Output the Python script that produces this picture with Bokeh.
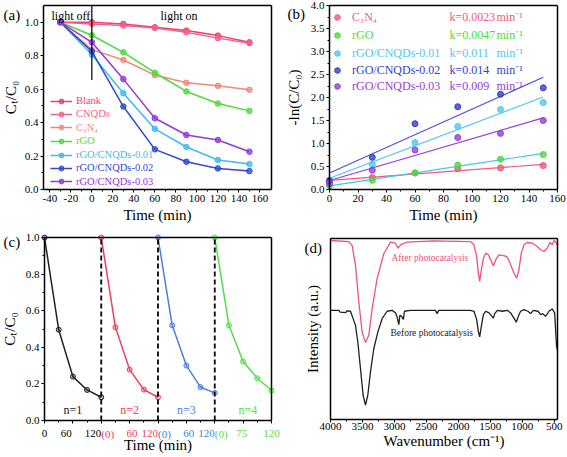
import numpy as np
from bokeh.plotting import figure
from bokeh.layouts import column, row
from bokeh.models import (Range1d, FixedTicker, Legend, LegendItem, Label, LinearAxis,
                          CustomJSTickFormatter, AllLabels)
from bokeh.core.properties import value
from bokeh.embed import file_html
from bokeh.resources import INLINE

FONT = "Liberation Serif"

# ---------------- (a) data ----------------
time_a = [-30, 0, 30, 60, 90, 120, 150]
names_a = ["Blank", "CNQDs", "C₃N₄", "rGO", "rGO/CNQDs-0.01", "rGO/CNQDs-0.02", "rGO/CNQDs-0.03"]
blank = [1.0, 1.0, 0.99, 0.97, 0.95, 0.92, 0.88]
cnqds = [1.0, 0.99, 0.98, 0.965, 0.94, 0.905, 0.875]
c3n4 = [1.0, 0.836, 0.774, 0.684, 0.638, 0.62, 0.596]
rgo = [1.0, 0.922, 0.82, 0.698, 0.586, 0.514, 0.47]
rgo_cnqds_001 = [1.0, 0.806, 0.576, 0.362, 0.254, 0.176, 0.152]
rgo_cnqds_002 = [1.0, 0.826, 0.496, 0.24, 0.166, 0.126, 0.11]
rgo_cnqds_003 = [1.0, 0.88, 0.66, 0.426, 0.326, 0.296, 0.226]
colors_a = ["#ee3f6e", "#f4628c", "#f4877a", "#4cdc3c", "#3cbcf0", "#3048d0", "#9438d8"]
light_switch_time = 0
light_line_bottom = 0.655
ratio_ticks = [0.0, 0.2, 0.4, 0.6, 0.8, 1.0]
ratio_labels = ["0.0", "0.2", "0.4", "0.6", "0.8", "1.0"]
ratio_minor = [0.1, 0.3, 0.5, 0.7, 0.9]

# ---------------- (b) data ----------------
time_b = [0, 30, 60, 90, 120, 150]
names_b = ["C₃N₄", "rGO", "rGO/CNQDs-0.01", "rGO/CNQDs-0.02", "rGO/CNQDs-0.03"]
ln_c3n4 = [0.18, 0.26, 0.36, 0.45, 0.47, 0.52]
ln_rgo = [0.08, 0.20, 0.36, 0.53, 0.66, 0.76]
ln_001 = [0.20, 0.55, 1.02, 1.37, 1.74, 1.89]
ln_002 = [0.19, 0.70, 1.43, 1.80, 2.07, 2.21]
ln_003 = [0.13, 0.42, 0.86, 1.13, 1.22, 1.50]
k_values = ["k=0.0023", "k=0.0047", "k=0.011", "k=0.014", "k=0.009"]
colors_b = ["#f4587a", "#4cdc3c", "#50c8f0", "#3040d0", "#9440d8"]
fit_colors_b = ["#f4587a", "#40c8e8", "#50c8f0", "#5050e0", "#9440d8"]

# ---------------- (c) data ----------------
cycle_time = [0, 30, 60, 90, 120]
cycle_offsets = [0, 120, 240, 360]
cycle1 = [1.0, 0.496, 0.24, 0.167, 0.127]
cycle2 = [1.0, 0.509, 0.278, 0.169, 0.127]
cycle3 = [1.0, 0.52, 0.30, 0.182, 0.151]
cycle4 = [1.0, 0.52, 0.322, 0.231, 0.164]
cycle_names = ["n=1", "n=2", "n=3", "n=4"]
cycle_name_x = [60, 180, 300, 430]
colors_c = ["#222222", "#f23c5c", "#4a7ee0", "#52e048"]
tick_pos_c = [0, 46, 120, 120, 185, 240, 240, 305, 360, 360, 417, 480]
tick_text_c = ["0", "60", "120", "(0)", "60", "120", "(0)", "60", "120", "(0)", "75", "120"]
tick_cycle_c = [0, 0, 0, 1, 1, 1, 2, 2, 2, 3, 3, 3]
tick_align_c = ["center", "center", "right", "left", "center", "right", "left", "center", "right", "left", "center", "center"]

# ---------------- (d) data ----------------
wn_after = [4000, 3714, 3661, 3609, 3557, 3505, 3453, 3401, 3349, 3271, 3167, 3062, 2984, 2943, 2896,
            2802, 2385, 1812, 1756, 1714, 1688, 1667, 1641, 1609, 1573, 1531, 1495, 1453, 1417, 1366,
            1288, 1234, 1183, 1131, 1089, 1053, 1016, 975, 922, 844, 766, 714, 662, 609, 569, 531, 506, 464, 450]
int_after = [98.9, 98.3, 96.1, 85.1, 64.9, 48.3, 42.5, 46.5, 61.2, 77.8, 91.6, 98.0, 97.4, 94.7, 96.8,
             98.0, 98.7, 98.3, 96.5, 90.1, 80.9, 76.3, 82.7, 89.1, 91.9, 91.0, 88.2, 84.9, 88.2, 91.0,
             90.5, 89.7, 85.5, 80.9, 78.1, 82.7, 91.9, 96.5, 97.8, 97.4, 95.6, 93.8, 92.8, 94.7, 97.8, 96.5, 98.9, 97.4, 96.0]
wn_before = [4000, 3870, 3850, 3760, 3745, 3687, 3609, 3573, 3531, 3490, 3453, 3417, 3375, 3323, 3260, 3193,
             3115, 3036, 2984, 2958, 2932, 2915, 2890, 2860, 2844, 2750, 2359, 2333, 2307, 1812, 1756,
             1714, 1688, 1667, 1641, 1609, 1573, 1521, 1484, 1453, 1432, 1391, 1313, 1234, 1183, 1131,
             1094, 1063, 1027, 975, 912, 870, 828, 755, 714, 682, 636, 583, 531, 495, 474, 464, 450]
int_before = [60.3, 60.3, 59.3, 59.0, 60.0, 59.8, 52.0, 42.8, 28.1, 13.4, 7.9, 13.4, 26.3, 39.1, 48.3, 55.7,
              59.8, 60.3, 59.0, 56.6, 52.4, 57.5, 57.1, 55.3, 59.8, 60.3, 60.3, 58.5, 60.3, 60.3, 59.8,
              55.2, 48.7, 45.6, 51.5, 57.9, 59.8, 58.9, 57.4, 56.0, 58.5, 60.3, 59.8, 60.3, 58.9, 56.0,
              53.7, 57.0, 59.8, 60.7, 59.8, 58.5, 60.3, 59.8, 57.9, 58.5, 57.0, 59.8, 61.1, 58.9, 45.9, 40.4, 38.0]
colors_d = ["#f4507a", "#202020"]

FMT0 = "return tick.toFixed(0)"
FMT1 = "return tick.toFixed(1)"
BLANK = "return ''"


def make_fig(W, H, box, xr, yr):
    """box = (left, right, top, bottom) of the plot box in pixels from the figure's top-left."""
    L, R, T, B = box
    x0, x1 = xr
    y0, y1 = yr
    sx = (x1 - x0) / (R - L)
    sy = (y1 - y0) / (B - T)
    p = figure(width=W, height=H, x_range=Range1d(x0 - L * sx, x1 + (W - R) * sx),
               y_range=Range1d(y0 - (H - B) * sy, y1 + T * sy),
               x_axis_location=None, y_axis_location=None,
               min_border_left=0, min_border_right=0, min_border_top=0, min_border_bottom=0,
               output_backend="svg", toolbar_location=None)
    p.outline_line_color = None
    p.background_fill_color = "white"
    p.border_fill_color = "white"
    p.grid.visible = False
    return p, sx


def add_axis(p, side, loc, bounds, ticks=(), minor=(), fmt=None, label=None,
             label_standoff=2, title_standoff=2, tick_out=3):
    ax = LinearAxis(fixed_location=loc, bounds=(min(bounds), max(bounds)),
                    ticker=FixedTicker(ticks=list(ticks), minor_ticks=list(minor)),
                    major_label_policy=AllLabels())
    if fmt is not None:
        ax.formatter = CustomJSTickFormatter(code=fmt)
    if label is not None:
        ax.axis_label = label
    ax.axis_line_width = 1.5
    ax.axis_line_color = "black"
    ax.major_tick_in = 0
    ax.major_tick_out = tick_out
    ax.minor_tick_in = 0
    ax.minor_tick_out = 2 if tick_out else 0
    ax.major_tick_line_width = 1
    ax.minor_tick_line_width = 1
    ax.major_label_text_font = FONT
    ax.major_label_text_font_size = "11px"
    ax.major_label_text_color = "black"
    ax.major_label_standoff = label_standoff
    ax.axis_label_text_font = FONT
    ax.axis_label_text_font_size = "15px"
    ax.axis_label_text_font_style = "normal"
    ax.axis_label_text_color = "black"
    ax.axis_label_standoff = title_standoff
    p.add_layout(ax, side)
    return ax


def box_axes(p, xr, yr):
    add_axis(p, "above", yr[1], xr, tick_out=0)
    add_axis(p, "right", xr[1], yr, tick_out=0)


def stxt(p, text, x, y_top, H, color="black", size="12px", align="left", baseline="middle"):
    p.add_layout(Label(x=x, y=H - y_top, x_units="screen", y_units="screen", text=text,
                       text_color=color, text_font=FONT, text_font_size=size,
                       text_align=align, text_baseline=baseline))


def dtxt(p, text, x, y, color="black", size="12px", align="left", baseline="middle"):
    p.add_layout(Label(x=x, y=y, text=text, text_color=color, text_font=FONT,
                       text_font_size=size, text_align=align, text_baseline=baseline))


def y_label_glyphs(p, x_data, ticks, labels):
    p.text(x=[x_data] * len(ticks), y=ticks, text=labels, text_font=value(FONT),
           text_font_size="11px", text_color="black", text_align="right", text_baseline="middle")


def one_legend(p, label, renderers, color, loc, size, gw, gh, standoff):
    lg = Legend(items=[LegendItem(label=label, renderers=renderers)], location=loc,
                label_text_color=color, label_text_font=FONT, label_text_font_size=size,
                glyph_width=gw, glyph_height=gh, label_standoff=standoff, label_height=gh,
                padding=0, margin=0, spacing=0, border_line_alpha=0, background_fill_alpha=0)
    p.add_layout(lg)


# ---------------- panel (a) ----------------
WA, HA = 283, 228
xr_a, yr_a = (-46, 171), (0, 1.1)
pa, sx_a = make_fig(WA, HA, (43, 271, 5, 189), xr_a, yr_a)
series_a = [blank, cnqds, c3n4, rgo, rgo_cnqds_001, rgo_cnqds_002, rgo_cnqds_003]
rends_a = []
for vals, col in zip(series_a, colors_a):
    lr = pa.line(time_a, vals, line_color=col, line_width=1.5)
    sr = pa.scatter(time_a, vals, size=5.5, fill_color=col, line_color=col, fill_alpha=0.75)
    rends_a.append((lr, sr))
pa.line([light_switch_time, light_switch_time], [light_line_bottom, yr_a[1]],
        line_color="black", line_width=1.2)
y_label_glyphs(pa, xr_a[0] - 5 * sx_a, ratio_ticks, ratio_labels)
add_axis(pa, "below", yr_a[0], xr_a, range(-40, 161, 20), range(-40, 161, 10), FMT0, "Time (min)")
add_axis(pa, "left", xr_a[0], yr_a, ratio_ticks, ratio_minor, BLANK, "Cₜ/C₀", title_standoff=22)
box_axes(pa, xr_a, yr_a)
leg_c_a = [100, 113.3, 126.7, 140, 154, 167.3, 180.7]
for (lr, sr), name, col, cy in zip(rends_a, names_a, colors_a, leg_c_a):
    one_legend(pa, name, [lr, sr], col, (50, HA - cy - 6.5), "10.5px", 22, 12, 4)
stxt(pa, "light off", 51, 15, HA, size="12px")
stxt(pa, "light on", 160, 15, HA, size="12px")
stxt(pa, "(a)", 3, 14, HA, size="15px")

# ---------------- panel (b) ----------------
WB, HB = 284, 228
xr_b, yr_b = (0, 160), (0, 4.0)
pb, sx_b = make_fig(WB, HB, (46, 274, 5, 189), xr_b, yr_b)
series_b = [ln_c3n4, ln_rgo, ln_001, ln_002, ln_003]
leg_c_b = [16.5, 34.5, 52.5, 69.5, 85.5]
for vals, col, fcol, name, kv, cy in zip(series_b, colors_b, fit_colors_b, names_b, k_values, leg_c_b):
    slope, icpt = np.polyfit(time_b, vals, 1)
    xs = [time_b[0], time_b[-1]]
    pb.line(xs, [icpt + slope * x for x in xs], line_color=fcol, line_width=1.2)
    sr = pb.scatter(time_b, vals, size=6, fill_color=col, line_color=col, fill_alpha=0.8)
    one_legend(pb, name, [sr], col, (46, HB - cy - 8), "12px", 16, 14, 7)
    stxt(pb, kv, 166, cy, HB, color=col, size="12px")
    stxt(pb, "min⁻¹", 213, cy, HB, color=col, size="12px")
add_axis(pb, "below", yr_b[0], xr_b, range(0, 161, 20), range(0, 161, 10), FMT0, "Time (min)")
add_axis(pb, "left", xr_b[0], yr_b, [0, 0.5, 1.0, 1.5, 2.0, 2.5, 3.0, 3.5, 4.0],
         [0.25, 0.75, 1.25, 1.75, 2.25, 2.75, 3.25, 3.75], FMT1, "-ln(C/C₀)", title_standoff=6)
box_axes(pb, xr_b, yr_b)
stxt(pb, "(b)", 4, 13.5, HB, size="15px")

# ---------------- panel (c) ----------------
WC, HC = 283, 229
xr_c, yr_c = (0, 480), (0, 1.0)
pc, sx_c = make_fig(WC, HC, (44, 271, 9, 192), xr_c, yr_c)
for vals, off, col in zip([cycle1, cycle2, cycle3, cycle4], cycle_offsets, colors_c):
    xs = [off + t for t in cycle_time]
    pc.line(xs, vals, line_color=col, line_width=1.5)
    pc.scatter(xs, vals, size=5, fill_color=col, line_color=col, fill_alpha=0.35)
for d in cycle_offsets[1:]:
    pc.line([d, d], [yr_c[0], yr_c[1]], line_color="black", line_width=1.8, line_dash="5 3")
y_label_glyphs(pc, xr_c[0] - 5 * sx_c, ratio_ticks, ratio_labels)
add_axis(pc, "below", yr_c[0], xr_c, range(0, 481, 60), range(30, 481, 60), BLANK,
         "Time (min)", title_standoff=13)
add_axis(pc, "left", xr_c[0], yr_c, ratio_ticks, ratio_minor, BLANK, "Cₜ/C₀", title_standoff=24)
box_axes(pc, xr_c, yr_c)
for pos, t, ci, al in zip(tick_pos_c, tick_text_c, tick_cycle_c, tick_align_c):
    pc.add_layout(Label(x=pos, y=HC - 205, y_units="screen", text=t,
                        text_color=colors_c[ci] if ci > 0 else "black", text_font=FONT,
                        text_font_size="11px", text_align=al, text_baseline="middle"))
for nx, nm, col in zip(cycle_name_x, cycle_names, colors_c):
    dtxt(pc, nm, nx, 0.055, color=col, size="12px", align="center")
stxt(pc, "(c)", 3, 13, HC, size="15px")

# ---------------- panel (d) ----------------
WD, HD = 284, 229
xr_d, yr_d = (4000, 450), (0, 100)
pd_, sx_d = make_fig(WD, HD, (47, 274, 10, 191), xr_d, yr_d)
pd_.line(wn_after, int_after, line_color=colors_d[0], line_width=1.3)
pd_.line(wn_before, int_before, line_color=colors_d[1], line_width=1.3)
add_axis(pd_, "below", yr_d[0], xr_d, range(500, 4001, 500), range(500, 4001, 250), FMT0,
         "Wavenumber (cm⁻¹)", label_standoff=0, title_standoff=0)
add_axis(pd_, "left", xr_d[0], yr_d, [], [], None, "Intensity (a.u.)",
         label_standoff=0, title_standoff=10, tick_out=0)
box_axes(pd_, xr_d, yr_d)
dtxt(pd_, "After photocatalysis", 3046, 89, color=colors_d[0], size="9.5px")
dtxt(pd_, "Before photocatalysis", 3062, 48, color=colors_d[1], size="9.5px")
stxt(pd_, "(d)", 21, 19, HD, size="15px")

layout = column(row(pa, pb), row(pc, pd_))
open("out.html", "w").write(file_html(layout, INLINE))
